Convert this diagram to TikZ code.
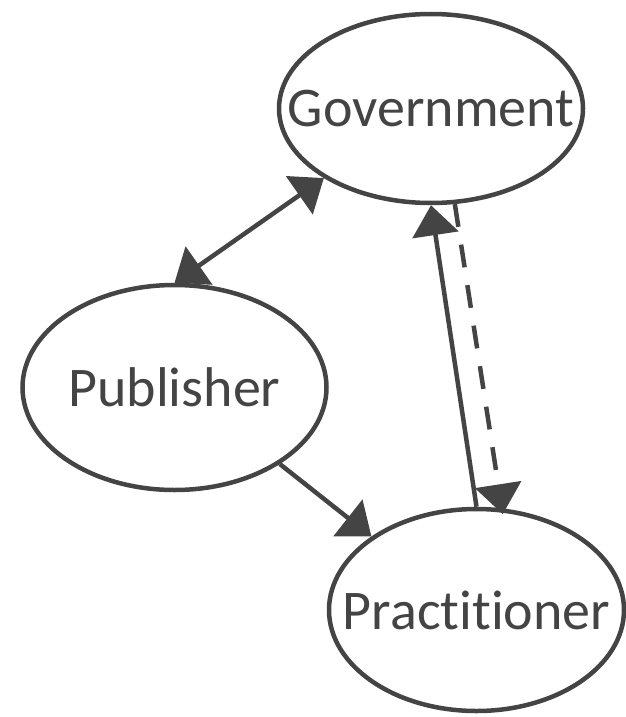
\documentclass[tikz,border=0pt]{standalone}
\usepackage{xcolor}
\usepackage{fontspec}
\setmainfont{Carlito}[Ligatures={NoCommon,NoContextual}]
\usepackage{tikz}
\usetikzlibrary{shapes.geometric,arrows.meta,positioning}
\definecolor{inkgray}{HTML}{444444}

\begin{document}
\begin{tikzpicture}[x=1pt,y=-1pt,color=inkgray,line width=4.5pt]
        \tikzstyle{actor}=[ellipse,draw=inkgray,inner sep=0pt,text=inkgray,font=\fontsize{56}{60}\selectfont]
        \tikzstyle{flow}=[-{Triangle[length=30pt,width=46pt]}]
        \tikzstyle{every edge}=[draw,line width=4.5pt]
        \useasboundingbox (0,0) rectangle (626,717);
        \node[actor,minimum width=304pt,minimum height=189pt] (Gov) at (431,108.5) {\makebox[0pt]{Government}};
        \node[actor,minimum width=304pt,minimum height=205pt] (Pub) at (174.5,387.5) {\makebox[0pt]{Publisher}};
        \node[actor,minimum width=295pt,minimum height=202pt] (Prac) at (476.5,610) {\makebox[0pt]{Practitioner}};
        \path[flow]
        (Pub.north) edge[{Triangle[length=30pt,width=46pt]}-{Triangle[length=30pt,width=46pt]}] (Gov.213)
        (Prac.north) edge (Gov.south)
        (Gov.284) edge[dash pattern=on 23pt off 18pt,shorten >=-6pt] (Prac.76)
        (Pub.324) edge (Prac.145);
    \end{tikzpicture}
\end{document}
